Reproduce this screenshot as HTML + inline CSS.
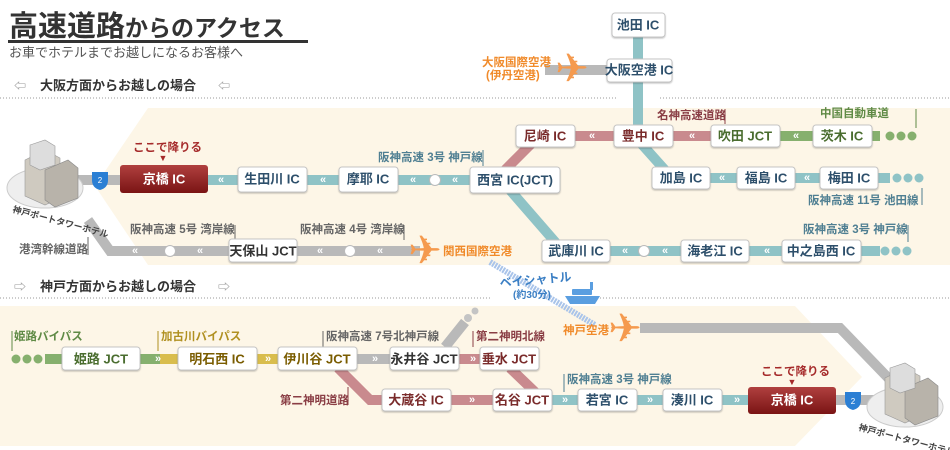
<!DOCTYPE html>
<html><head><meta charset="utf-8"><style>
html,body{margin:0;padding:0;background:#fff;}
svg{display:block;font-family:"Liberation Sans","Noto Sans CJK JP",sans-serif;}
.b{fill:#fff;stroke:#c4c4c4;stroke-width:1;filter:url(#sh);}
.t{font-size:13px;font-weight:bold;text-anchor:middle;dominant-baseline:central;}
.l{font-size:11.5px;font-weight:bold;}
</style></head><body>
<svg width="950" height="450" viewBox="0 0 950 450" xmlns="http://www.w3.org/2000/svg">
<defs>
<filter id="sh" x="-10%" y="-10%" width="130%" height="140%"><feDropShadow dx="0" dy="1" stdDeviation="0.8" flood-color="#000" flood-opacity="0.25"/></filter>
<linearGradient id="red" x1="0" y1="0" x2="0" y2="1"><stop offset="0" stop-color="#b0403f"/><stop offset="1" stop-color="#7a1414"/></linearGradient>
</defs>
<polygon points="148,108 950,108 950,265 148,265 95,186" fill="#fdf6e7"/>
<polygon points="0,306 795,306 862,377 795,446 0,446" fill="#fdf6e7"/>
<text x="9" y="36" font-size="29" font-weight="bold" fill="#333">高速道路<tspan font-size="23">からのアクセス</tspan></text>
<rect x="8" y="40" width="300" height="3" fill="#333"/>
<text x="9" y="57" font-size="13" fill="#555">お車でホテルまでお越しになるお客様へ</text>
<text x="14" y="90" font-size="12" font-weight="bold" fill="#999">⇦</text>
<text x="40" y="90" font-size="13" font-weight="bold" fill="#333">大阪方面からお越しの場合</text>
<text x="218" y="90" font-size="12" font-weight="bold" fill="#999">⇦</text>
<line x1="0" y1="98" x2="618" y2="98" stroke="#ccc" stroke-width="2" stroke-dasharray="1,2"/>
<line x1="660" y1="98" x2="950" y2="98" stroke="#ccc" stroke-width="2" stroke-dasharray="1,2"/>
<text x="14" y="291" font-size="12" font-weight="bold" fill="#999">⇨</text>
<text x="40" y="291" font-size="13" font-weight="bold" fill="#333">神戸方面からお越しの場合</text>
<text x="218" y="291" font-size="12" font-weight="bold" fill="#999">⇨</text>
<line x1="0" y1="298" x2="490" y2="298" stroke="#ccc" stroke-width="2" stroke-dasharray="1,2"/>
<line x1="600" y1="298" x2="950" y2="298" stroke="#ccc" stroke-width="2" stroke-dasharray="1,2"/>

<g stroke-width="10" fill="none" stroke-linecap="butt">
<line x1="638" y1="30" x2="638" y2="130" stroke="#8fc3c6"/>
<line x1="545" y1="70" x2="607" y2="70" stroke="#b9b9b9"/>
<polyline points="638,140 672,178 890,178" stroke="#8fc3c6"/>
<line x1="575" y1="136" x2="711" y2="136" stroke="#c98a8e"/>
<polyline points="535,140 505,170" stroke="#c98a8e"/>
<line x1="780" y1="136" x2="880" y2="136" stroke="#86b06e"/>
<line x1="208" y1="180" x2="470" y2="180" stroke="#8fc3c6"/>
<polyline points="510,190 563,251 880,251" stroke="#8fc3c6"/>
<line x1="70" y1="180" x2="120" y2="180" stroke="#b9b9b9"/>
<polyline points="88,220 110,251 420,251" stroke="#b9b9b9"/>
<polyline points="640,328 840,328 895,385" stroke="#b9b9b9"/>
<line x1="45" y1="359" x2="160" y2="359" stroke="#86b06e"/>
<line x1="160" y1="359" x2="280" y2="359" stroke="#d9bd4d"/>
<line x1="357" y1="359" x2="392" y2="359" stroke="#b9b9b9"/>
<line x1="445" y1="347" x2="465" y2="322" stroke="#b9b9b9"/>
<line x1="459" y1="359" x2="482" y2="359" stroke="#c98a8e"/>
<polyline points="338,368 370,400 385,400" stroke="#c98a8e"/>
<line x1="451" y1="400" x2="495" y2="400" stroke="#c98a8e"/>
<line x1="510" y1="368" x2="535" y2="392" stroke="#c98a8e"/>
<line x1="552" y1="400" x2="750" y2="400" stroke="#8fc3c6"/>
<line x1="836" y1="400" x2="880" y2="400" stroke="#b9b9b9"/>
</g>
<line x1="490" y1="262" x2="595" y2="325" stroke="#a9c4ea" stroke-width="6" stroke-dasharray="2,1"/>
<g fill="#86b06e"><circle cx="890" cy="136" r="4.5"/><circle cx="901" cy="136" r="4.5"/><circle cx="912" cy="136" r="4.5"/>
<circle cx="16" cy="359" r="4.5"/><circle cx="27" cy="359" r="4.5"/><circle cx="38" cy="359" r="4.5"/></g>
<g fill="#8fc3c6"><circle cx="897" cy="178" r="4.5"/><circle cx="908" cy="178" r="4.5"/><circle cx="919" cy="178" r="4.5"/>
<circle cx="885" cy="251" r="4.5"/><circle cx="896" cy="251" r="4.5"/><circle cx="907" cy="251" r="4.5"/></g>
<g fill="#c4c4c4"><circle cx="468" cy="318" r="4"/><circle cx="475" cy="311" r="3.5"/></g>
<g fill="#fff" stroke="#bbb"><circle cx="435" cy="180" r="5.5"/><circle cx="644" cy="251" r="5.5"/><circle cx="170" cy="251" r="5.5"/><circle cx="350" cy="251" r="5.5"/></g>
<g font-size="11" fill="#fff" font-weight="bold" text-anchor="middle" dominant-baseline="central">
<text x="221" y="180">«</text><text x="323" y="180">«</text><text x="413" y="180">«</text><text x="455" y="180">«</text>
<text x="592" y="136">«</text><text x="692" y="136">«</text><text x="796" y="136">«</text>
<text x="722" y="178">«</text><text x="807" y="178">«</text>
<text x="625" y="251">«</text><text x="665" y="251">«</text><text x="767" y="251">«</text>
<text x="135" y="251">«</text><text x="200" y="251">«</text><text x="320" y="251">«</text><text x="380" y="251">«</text>
<text x="158" y="359">»</text><text x="268" y="359">»</text><text x="375" y="359">»</text><text x="473" y="359">»</text>
<text x="565" y="400">»</text><text x="650" y="400">»</text><text x="737" y="400">»</text><text x="472" y="400">»</text>
</g>
<g stroke-width="1">
<line x1="483" y1="150" x2="483" y2="166" stroke="#4f7f92"/>
<line x1="725" y1="109" x2="725" y2="124" stroke="#8a3e45"/>
<line x1="916" y1="109" x2="916" y2="128" stroke="#5f8a45"/>
<line x1="922" y1="188" x2="922" y2="205" stroke="#4f7f92"/>
<line x1="908" y1="225" x2="908" y2="242" stroke="#4f7f92"/>
<line x1="235" y1="225" x2="235" y2="240" stroke="#666"/>
<line x1="404" y1="225" x2="404" y2="240" stroke="#666"/>
<line x1="88" y1="237" x2="88" y2="255" stroke="#666"/>
<line x1="12" y1="331" x2="12" y2="351" stroke="#5f8a45"/>
<line x1="158" y1="331" x2="158" y2="351" stroke="#b09020"/>
<line x1="323" y1="331" x2="323" y2="347" stroke="#666"/>
<line x1="473" y1="331" x2="473" y2="347" stroke="#8a3e45"/>
<line x1="348" y1="387" x2="348" y2="405" stroke="#8a3e45"/>
<line x1="564" y1="374" x2="564" y2="392" stroke="#4f7f92"/>
</g>
<g class="l">
<text x="378" y="161" fill="#4f7f92">阪神高速 3号 神戸線</text>
<text x="657" y="119" fill="#8a3e45">名神高速道路</text>
<text x="820" y="117" fill="#5f8a45">中国自動車道</text>
<text x="808" y="204" fill="#4f7f92">阪神高速 11号 池田線</text>
<text x="803" y="233" fill="#4f7f92">阪神高速 3号 神戸線</text>
<text x="130" y="233" fill="#666">阪神高速 5号 湾岸線</text>
<text x="300" y="233" fill="#666">阪神高速 4号 湾岸線</text>
<text x="19" y="253" fill="#666">港湾幹線道路</text>
<text x="14" y="340" fill="#5f8a45">姫路バイパス</text>
<text x="161" y="340" fill="#b09020">加古川バイパス</text>
<text x="326" y="340" fill="#666">阪神高速 7号北神戸線</text>
<text x="476" y="340" fill="#8a3e45">第二神明北線</text>
<text x="280" y="404" fill="#8a3e45">第二神明道路</text>
<text x="567" y="383" fill="#4f7f92">阪神高速 3号 神戸線</text>
<text x="443" y="255" fill="#f08a2a">関西国際空港</text>
<text x="563" y="334" fill="#f08a2a">神戸空港</text>
<text x="482" y="66" fill="#f08a2a">大阪国際空港</text>
<text x="486" y="79" fill="#f08a2a">(伊丹空港)</text>
<text x="500" y="287" fill="#3b7fc4" font-size="12" transform="rotate(-5 500 287)">ベイシャトル</text>
<text x="513" y="298" fill="#3b7fc4" font-size="10">(約30分)</text>
<text x="133" y="151" fill="#a52a2a">ここで降りる</text>
<text x="761" y="375" fill="#a52a2a">ここで降りる</text>
</g>
<text x="163" y="161" font-size="9" fill="#a52a2a" text-anchor="middle">▼</text>
<text x="792" y="385" font-size="9" fill="#a52a2a" text-anchor="middle">▼</text>
<g font-size="40" fill="#f59a4e" text-anchor="middle" dominant-baseline="central">
<text x="572" y="69">✈</text><text x="425" y="251">✈</text><text x="625" y="329">✈</text>
</g>
<g fill="#5a9ee0"><path d="M565,296 L600,296 L595,304 L570,304 Z"/><rect x="572" y="289" width="20" height="6" rx="1"/><rect x="590" y="282" width="3" height="8"/></g>
<g fill="#2b7fd4"><path d="M92,172 h16 v8 q0,8 -8,10 q-8,-2 -8,-10 z"/><path d="M845,392 h16 v8 q0,8 -8,10 q-8,-2 -8,-10 z"/></g>
<text x="100" y="183" font-size="8" fill="#fff" text-anchor="middle">2</text>
<text x="853" y="404" font-size="8" fill="#fff" text-anchor="middle">2</text>
<g>
<ellipse cx="45" cy="188" rx="38" ry="20" fill="#eee" stroke="#ccc"/>
<polygon points="25,160 45,150 60,158 60,198 45,205 25,196" fill="#cfcac0" stroke="#999" stroke-width="0.6"/>
<polygon points="45,170 68,160 78,168 78,198 55,207 45,200" fill="#b8b3aa" stroke="#888" stroke-width="0.6"/>
<polygon points="30,145 45,140 55,146 55,165 40,170 30,165" fill="#ddd" stroke="#999" stroke-width="0.6"/>
<text x="12" y="212" font-size="9" fill="#444" font-weight="bold" transform="rotate(15 12 212)">神戸ポートタワーホテル</text>
</g>
<g>
<ellipse cx="905" cy="407" rx="38" ry="20" fill="#eee" stroke="#ccc"/>
<polygon points="885,378 905,368 920,376 920,416 905,423 885,414" fill="#cfcac0" stroke="#999" stroke-width="0.6"/>
<polygon points="905,388 928,378 938,386 938,416 915,425 905,418" fill="#b8b3aa" stroke="#888" stroke-width="0.6"/>
<polygon points="890,368 905,363 915,369 915,388 900,393 890,388" fill="#ddd" stroke="#999" stroke-width="0.6"/>
<text x="858" y="430" font-size="9" fill="#444" font-weight="bold" transform="rotate(15 858 430)">神戸ポートタワーホテル</text>
</g>
<g>
<rect class="b" x="612" y="13" width="53" height="24" rx="3"/><text class="t" x="638" y="25" fill="#2d4f6b">池田 IC</text>
<rect class="b" x="607" y="59" width="65" height="23" rx="3"/><text class="t" x="639" y="70" fill="#2d4f6b">大阪空港 IC</text>
<rect x="120" y="165" width="88" height="28" rx="3" fill="url(#red)"/><text class="t" x="164" y="179" fill="#fff" font-size="14">京橋 IC</text>
<rect class="b" x="238" y="167" width="69" height="25" rx="3"/><text class="t" x="272" y="179" fill="#2d4f6b">生田川 IC</text>
<rect class="b" x="339" y="167" width="59" height="25" rx="3"/><text class="t" x="368" y="179" fill="#2d4f6b">摩耶 IC</text>
<rect class="b" x="470" y="167" width="90" height="26" rx="3"/><text class="t" x="515" y="180" fill="#2d4f6b">西宮 IC(JCT)</text>
<rect class="b" x="516" y="125" width="59" height="22" rx="3"/><text class="t" x="545" y="136" fill="#7a2b2b">尼崎 IC</text>
<rect class="b" x="614" y="125" width="59" height="22" rx="3"/><text class="t" x="643" y="136" fill="#7a2b2b">豊中 IC</text>
<rect class="b" x="711" y="125" width="69" height="22" rx="3"/><text class="t" x="745" y="136" fill="#4a6d2f">吹田 JCT</text>
<rect class="b" x="813" y="125" width="59" height="22" rx="3"/><text class="t" x="842" y="136" fill="#4a6d2f">茨木 IC</text>
<rect class="b" x="652" y="167" width="58" height="22" rx="3"/><text class="t" x="681" y="178" fill="#2d4f6b">加島 IC</text>
<rect class="b" x="737" y="167" width="58" height="22" rx="3"/><text class="t" x="766" y="178" fill="#2d4f6b">福島 IC</text>
<rect class="b" x="820" y="167" width="58" height="22" rx="3"/><text class="t" x="849" y="178" fill="#2d4f6b">梅田 IC</text>
<rect class="b" x="542" y="240" width="68" height="22" rx="3"/><text class="t" x="576" y="251" fill="#2d4f6b">武庫川 IC</text>
<rect class="b" x="681" y="240" width="68" height="22" rx="3"/><text class="t" x="715" y="251" fill="#2d4f6b">海老江 IC</text>
<rect class="b" x="782" y="240" width="79" height="22" rx="3"/><text class="t" x="821" y="251" fill="#2d4f6b">中之島西 IC</text>
<rect class="b" x="229" y="239" width="68" height="23" rx="3"/><text class="t" x="263" y="251" fill="#333">天保山 JCT</text>
<rect class="b" x="62" y="347" width="78" height="23" rx="3"/><text class="t" x="101" y="359" fill="#4a6d2f">姫路 JCT</text>
<rect class="b" x="178" y="347" width="79" height="23" rx="3"/><text class="t" x="217" y="359" fill="#7a5c00">明石西 IC</text>
<rect class="b" x="278" y="347" width="79" height="23" rx="3"/><text class="t" x="317" y="359" fill="#7a5c00">伊川谷 JCT</text>
<rect class="b" x="390" y="347" width="69" height="23" rx="3"/><text class="t" x="424" y="359" fill="#333">永井谷 JCT</text>
<rect class="b" x="480" y="347" width="59" height="23" rx="3"/><text class="t" x="509" y="359" fill="#7a2b2b">垂水 JCT</text>
<rect class="b" x="382" y="389" width="69" height="22" rx="3"/><text class="t" x="416" y="400" fill="#7a2b2b">大蔵谷 IC</text>
<rect class="b" x="493" y="389" width="59" height="22" rx="3"/><text class="t" x="522" y="400" fill="#7a2b2b">名谷 JCT</text>
<rect class="b" x="578" y="389" width="59" height="22" rx="3"/><text class="t" x="607" y="400" fill="#2d4f6b">若宮 IC</text>
<rect class="b" x="663" y="389" width="59" height="22" rx="3"/><text class="t" x="692" y="400" fill="#2d4f6b">湊川 IC</text>
<rect x="748" y="387" width="88" height="27" rx="3" fill="url(#red)"/><text class="t" x="792" y="400" fill="#fff" font-size="14">京橋 IC</text>
</g>
</svg>
</body></html>
